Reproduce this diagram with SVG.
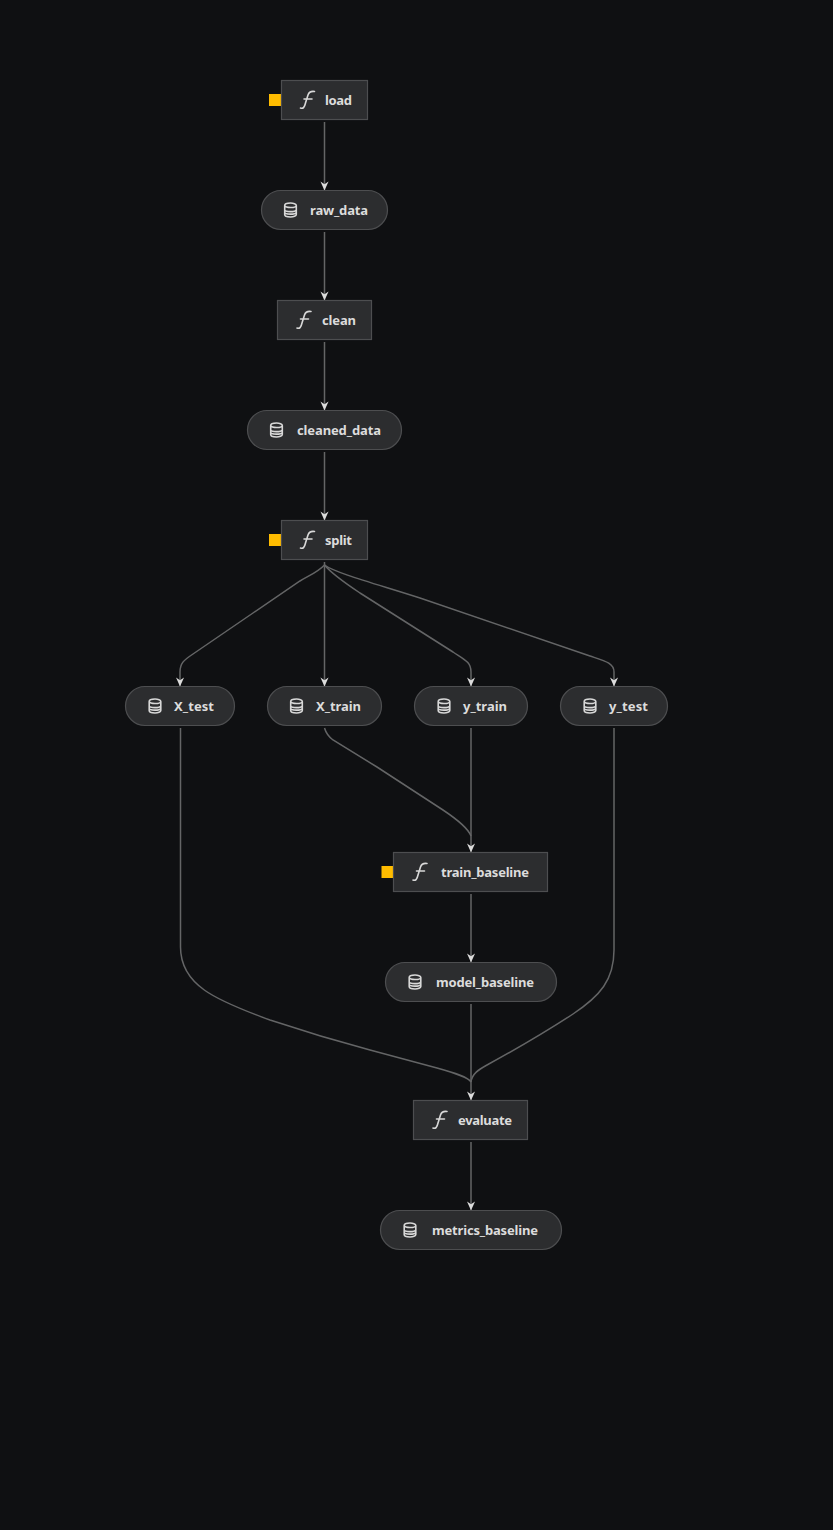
<svg xmlns="http://www.w3.org/2000/svg" xmlns:xlink="http://www.w3.org/1999/xlink" width="833" height="1530" viewBox="0 0 833 1530">
<style>
.bg{fill:#0f1012}
.n{fill:#2c2d2f;stroke:#4d4e50;stroke-width:1.2}
.t{font-family:"Noto Sans","Open Sans",sans-serif;font-size:13px;font-weight:700;fill:#dcdcdc}
.e{fill:none;stroke:#646566;stroke-width:1.5}
.tag{fill:#ffbc00}
.ic{fill:none;stroke:#d8d8d8;stroke-width:1.6;stroke-linecap:round}
</style>
<defs>
<marker id="arr" viewBox="0 0 10 10" refX="9.500" refY="5" markerWidth="9" markerHeight="9" markerUnits="userSpaceOnUse" orient="auto"><path d="M0 0.500 L10 5 L0 9.500 L3 5 Z" fill="#dcdcdc"/></marker>
<g id="fn"><path class="ic" d="M-7 8 C-4.500 9 -3 7.500 -2 3 L0.500 -5 C1.500 -8 3.500 -9 7 -8.500 M-3.500 -1 L4.500 -1"/></g>
<g id="db"><path class="ic" d="M-5.800 -4.500 C-5.800 -7.800 5.800 -7.800 5.800 -4.500 C5.800 -1.800 -5.800 -1.800 -5.800 -4.500 V4.500 C-5.800 7.800 5.800 7.800 5.800 4.500 V-4.500 M-5.800 -0.300 C-5.800 2.300 5.800 2.300 5.800 -0.300 M-5.800 2.200 C-5.800 4.800 5.800 4.800 5.800 2.200"/></g>
</defs>
<rect class="bg" width="833" height="1530"/>
<g id="connectors">
<path class="e" marker-end="url(#arr)" d="M324.500 122V190"/>
<path class="e" marker-end="url(#arr)" d="M324.500 232V300"/>
<path class="e" marker-end="url(#arr)" d="M324.500 342V410"/>
<path class="e" marker-end="url(#arr)" d="M324.500 452V520"/>
<path class="e" marker-end="url(#arr)" d="M324.500 565C318 572 310 575 300 581L253 613L193 654C184 660 180 663 180 672V686"/>
<path class="e" marker-end="url(#arr)" d="M324.500 562V686"/>
<path class="e" marker-end="url(#arr)" d="M324.500 565C331 573 345 583 360 593L453 652C465 660 471 662 471 672V686"/>
<path class="e" marker-end="url(#arr)" d="M324.500 565C335 573 380 585 420 598L590 656C605 661 614 663 614 672V686"/>
<path class="e" d="M324.500 728C326 733 329 737 333 740L377 767L443 810C458 820 468 828 471 836"/>
<path class="e" marker-end="url(#arr)" d="M471 728V852"/>
<path class="e" marker-end="url(#arr)" d="M471 894V962"/>
<path class="e" d="M180.500 728V947C180.500 985 215 1000 270 1020C300 1030 340 1042 370 1050L437 1068C455 1073 468 1077 471 1082"/>
<path class="e" d="M614 728V950C614 980 600 996 573 1014C550 1029 520 1047 487 1065C478 1070 472 1074 471 1082"/>
<path class="e" marker-end="url(#arr)" d="M471 1004V1100"/>
<path class="e" marker-end="url(#arr)" d="M471 1142V1210"/>
</g>
<g id="load"><rect class="tag" x="269" y="94" width="12" height="12"/><rect class="n" x="281.500" y="80.500" width="86" height="39"/><use xlink:href="#fn" x="307.500" y="100"/><text class="t" x="325" y="104.500" textLength="27">load</text></g>
<g id="raw_data"><rect class="n" x="261.500" y="190.500" width="126" height="39" rx="19.500"/><use xlink:href="#db" x="290.500" y="210"/><text class="t" x="310" y="214.500" textLength="58">raw_data</text></g>
<g id="clean"><rect class="n" x="277.500" y="300.500" width="94" height="39"/><use xlink:href="#fn" x="304" y="320"/><text class="t" x="322" y="324.500" textLength="34">clean</text></g>
<g id="cleaned_data"><rect class="n" x="247.500" y="410.500" width="154" height="39" rx="19.500"/><use xlink:href="#db" x="276.500" y="430"/><text class="t" x="297" y="434.500" textLength="84">cleaned_data</text></g>
<g id="split"><rect class="tag" x="269" y="534" width="12" height="12"/><rect class="n" x="281.500" y="520.500" width="86" height="39"/><use xlink:href="#fn" x="307.500" y="540"/><text class="t" x="325" y="544.500" textLength="27">split</text></g>
<g id="X_test"><rect class="n" x="125.500" y="686.500" width="109" height="39" rx="19.500"/><use xlink:href="#db" x="155" y="706"/><text class="t" x="174" y="710.500" textLength="40">X_test</text></g>
<g id="X_train"><rect class="n" x="267.500" y="686.500" width="114" height="39" rx="19.500"/><use xlink:href="#db" x="296.500" y="706"/><text class="t" x="316" y="710.500" textLength="45">X_train</text></g>
<g id="y_train"><rect class="n" x="414.500" y="686.500" width="113" height="39" rx="19.500"/><use xlink:href="#db" x="444" y="706"/><text class="t" x="463" y="710.500" textLength="44">y_train</text></g>
<g id="y_test"><rect class="n" x="560.500" y="686.500" width="107" height="39" rx="19.500"/><use xlink:href="#db" x="590" y="706"/><text class="t" x="609" y="710.500" textLength="39">y_test</text></g>
<g id="train_baseline"><rect class="tag" x="381.500" y="866" width="12" height="12"/><rect class="n" x="393.500" y="852.500" width="154" height="39"/><use xlink:href="#fn" x="420" y="872"/><text class="t" x="441" y="876.500" textLength="88">train_baseline</text></g>
<g id="model_baseline"><rect class="n" x="385.500" y="962.500" width="171" height="39" rx="19.500"/><use xlink:href="#db" x="415" y="982"/><text class="t" x="436" y="986.500" textLength="98">model_baseline</text></g>
<g id="evaluate"><rect class="n" x="413.500" y="1100.500" width="114" height="39"/><use xlink:href="#fn" x="440" y="1120"/><text class="t" x="458" y="1124.500" textLength="54">evaluate</text></g>
<g id="metrics_baseline"><rect class="n" x="380.500" y="1210.500" width="181" height="39" rx="19.500"/><use xlink:href="#db" x="410" y="1230"/><text class="t" x="432" y="1234.500" textLength="106">metrics_baseline</text></g>
</svg>
